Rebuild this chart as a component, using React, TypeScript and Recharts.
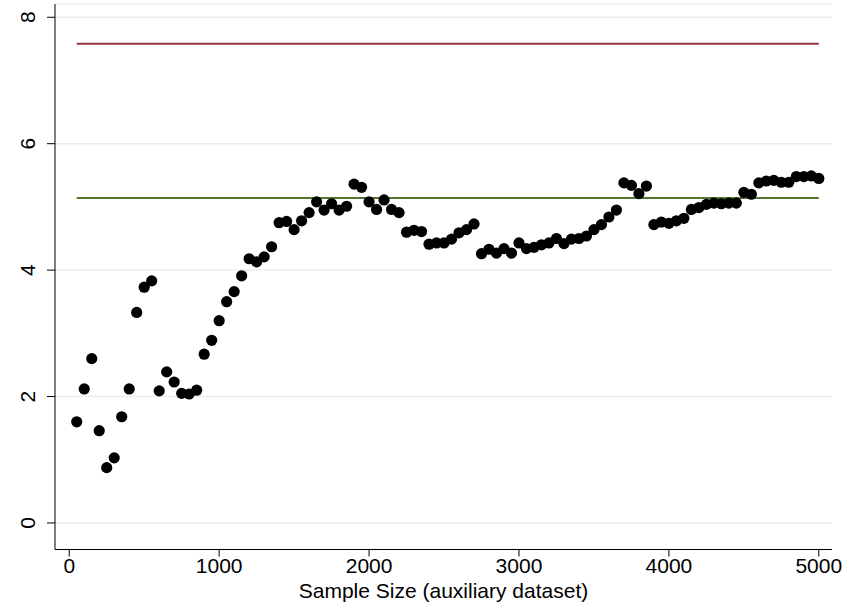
import { ScatterChart, Scatter, XAxis, YAxis, CartesianGrid } from 'recharts';

// sample size of the auxiliary dataset
const sampleSizes = [
  50, 100, 150, 200, 250, 300, 350, 400, 450, 500,
  550, 600, 650, 700, 750, 800, 850, 900, 950, 1000,
  1050, 1100, 1150, 1200, 1250, 1300, 1350, 1400, 1450, 1500,
  1550, 1600, 1650, 1700, 1750, 1800, 1850, 1900, 1950, 2000,
  2050, 2100, 2150, 2200, 2250, 2300, 2350, 2400, 2450, 2500,
  2550, 2600, 2650, 2700, 2750, 2800, 2850, 2900, 2950, 3000,
  3050, 3100, 3150, 3200, 3250, 3300, 3350, 3400, 3450, 3500,
  3550, 3600, 3650, 3700, 3750, 3800, 3850, 3900, 3950, 4000,
  4050, 4100, 4150, 4200, 4250, 4300, 4350, 4400, 4450, 4500,
  4550, 4600, 4650, 4700, 4750, 4800, 4850, 4900, 4950, 5000,
];

const estimates = [
  1.60, 2.12, 2.60, 1.46, 0.875, 1.03, 1.68, 2.12, 3.33, 3.73,
  3.83, 2.09, 2.39, 2.23, 2.05, 2.04, 2.10, 2.67, 2.89, 3.20,
  3.50, 3.66, 3.91, 4.18, 4.13, 4.21, 4.37, 4.75, 4.77, 4.64,
  4.78, 4.91, 5.08, 4.95, 5.05, 4.95, 5.01, 5.36, 5.31, 5.08,
  4.96, 5.11, 4.96, 4.91, 4.60, 4.63, 4.61, 4.41, 4.43, 4.43,
  4.49, 4.59, 4.64, 4.73, 4.26, 4.33, 4.27, 4.34, 4.27, 4.43,
  4.34, 4.36, 4.40, 4.43, 4.50, 4.42, 4.49, 4.50, 4.54, 4.64,
  4.72, 4.84, 4.95, 5.38, 5.34, 5.21, 5.33, 4.72, 4.76, 4.74,
  4.78, 4.82, 4.96, 4.99, 5.04, 5.06, 5.05, 5.06, 5.06, 5.23,
  5.20, 5.38, 5.41, 5.42, 5.39, 5.39, 5.48, 5.48, 5.49, 5.45,
];

const upperLevel = 7.58;
const lowerLevel = 5.14;

const xTicks = [0, 1000, 2000, 3000, 4000, 5000];
const yTicks = [0, 2, 4, 6, 8];

const points = sampleSizes.map((n, i) => ({ n, v: estimates[i] }));
const first = sampleSizes[0];
const last = sampleSizes[sampleSizes.length - 1];
const upperLine = [{ n: first, v: upperLevel }, { n: last, v: upperLevel }];
const lowerLine = [{ n: first, v: lowerLevel }, { n: last, v: lowerLevel }];

const FONT = '"Liberation Sans", Arial, sans-serif';

const XTick = ({ x, y, payload }: any) => (
  <text x={x} y={y + 16} textAnchor="middle" fontSize={21} fontFamily={FONT} fill="#000">
    {payload.value}
  </text>
);

const YTick = ({ x, y, payload }: any) => {
  const cx = x - 19;
  return (
    <text
      x={cx}
      y={y}
      transform={`rotate(-90, ${cx}, ${y})`}
      textAnchor="middle"
      dominantBaseline="central"
      fontSize={21}
      fontFamily={FONT}
      fill="#000"
    >
      {payload.value}
    </text>
  );
};

const Dot = (props: any) => <circle cx={props.cx} cy={props.cy} r={5.6} fill="#000" />;
const NoShape = () => null;

export default function App() {
  return (
    <div style={{ position: 'absolute', left: 0, top: 0, width: 860, height: 605, background: '#fff' }}>
      <ScatterChart width={860} height={605} margin={{ top: 4, right: 28, left: 0, bottom: 0 }}>
        <CartesianGrid vertical={false} stroke="#e6eef1" strokeWidth={1.5} />
        <XAxis
          type="number"
          dataKey="n"
          domain={[-95, 5088]}
          ticks={xTicks}
          allowDataOverflow
          height={55.5}
          tickSize={7}
          tickMargin={0}
          stroke="#000"
          tick={<XTick />}
          label={{ value: 'Sample Size (auxiliary dataset)', position: 'insideBottom', offset: 7, fontSize: 21, fontFamily: FONT, fill: '#000' }}
        />
        <YAxis
          type="number"
          dataKey="v"
          domain={[-0.42, 8.21]}
          ticks={yTicks}
          allowDataOverflow
          width={55}
          tickSize={8}
          tickMargin={0}
          stroke="#000"
          tick={<YTick />}
        />
        <Scatter data={upperLine} line={{ stroke: '#90353b', strokeWidth: 2 }} shape={NoShape} isAnimationActive={false} />
        <Scatter data={lowerLine} line={{ stroke: '#55752f', strokeWidth: 2 }} shape={NoShape} isAnimationActive={false} />
        <Scatter data={points} shape={Dot} isAnimationActive={false} />
      </ScatterChart>
    </div>
  );
}
